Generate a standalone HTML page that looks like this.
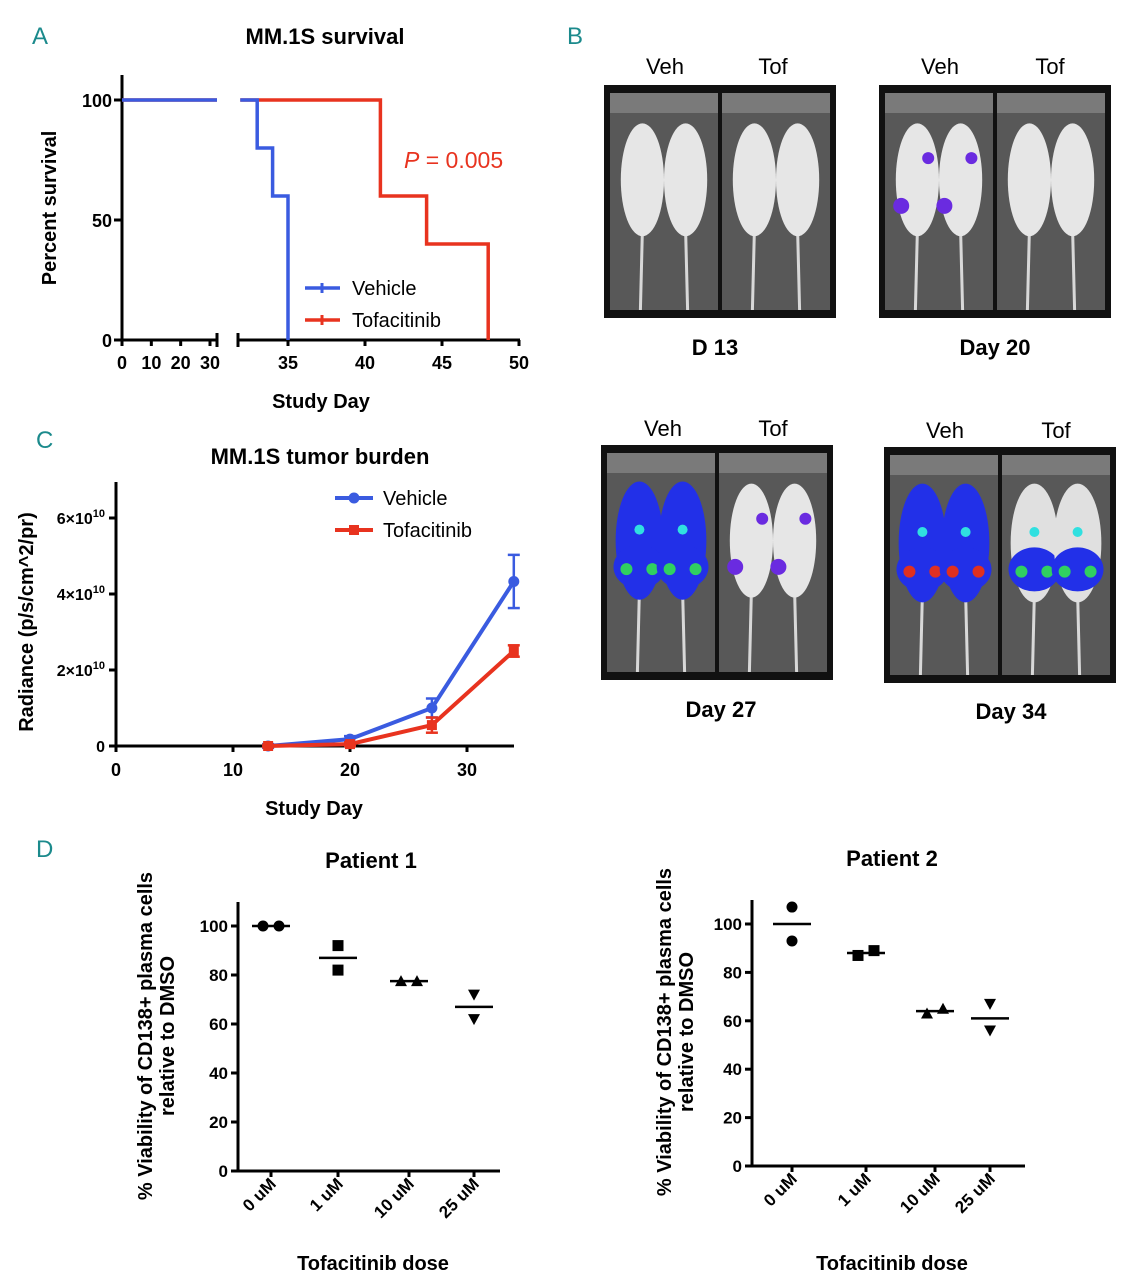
<!DOCTYPE html>
<html><head><meta charset="utf-8"><style>
html,body{margin:0;padding:0;background:#fff;}
svg{display:block;font-family:"Liberation Sans",sans-serif;}
</style></head><body>
<svg id="fig" width="1127" height="1280" viewBox="0 0 1127 1280" xmlns="http://www.w3.org/2000/svg">
<g font-size="24" fill="#1b8a8c" font-family="Liberation Sans Narrow, Liberation Sans, sans-serif">
<text x="32" y="44">A</text>
<text x="567" y="44">B</text>
<text x="36" y="448">C</text>
<text x="36" y="857">D</text>
</g>
<g id="panelA"></g>
<g id="panelB"></g>
<g id="panelC"></g>
<g id="panelD1"></g>
<g id="panelD2"></g>
</svg>
<script>
// ---- Panel A data ----
const vehDays=[0,33,34,35];
const vehSurv=[100,80,60,0];
const tofDays=[0,41,44,48];
const tofSurv=[100,60,40,0];
const aLeftTicks=[0,10,20,30];
const aRightTicks=[35,40,45,50];
const aYTicks=[0,50,100];
// ---- Panel C data ----
const cDays=[13,20,27,34];
const cVeh=[0.0,0.18,1.0,4.33];
const cVehErr=[0.05,0.08,0.25,0.7];
const cTof=[0.0,0.05,0.55,2.5];
const cTofErr=[0.03,0.05,0.2,0.15];
const cXTicks=[0,10,20,30];
const cYTicks=[0,2,4,6];
// ---- Panel D data ----
const doses=["0 uM","1 uM","10 uM","25 uM"];
const p1a=[100,92,77.5,72];
const p1b=[100,82,77.5,62];
const p1mean=[100,87,77.5,67];
const p2a=[107,87,63,67];
const p2b=[93,89,65,56];
const p2mean=[100,88,64,61];
const dYTicks=[0,20,40,60,80,100];

const NS="http://www.w3.org/2000/svg";
function mk(parent,tag,attrs,text){const e=document.createElementNS(NS,tag);for(const k in attrs)e.setAttribute(k,attrs[k]);if(text!==undefined)e.textContent=text;parent.appendChild(e);return e;}
const BLUE="#3a5be0",RED="#e8331f";

// ===== Panel A =====
(function(){
const g=document.getElementById('panelA');
const y=v=>340-v*2.4;
const xl=d=>122+d*(88/30);
const xr=d=>288+(d-35)*15.4;
const xa=d=>d<=30?xl(d):xr(d);
let t=mk(g,'text',{x:325,y:44,'text-anchor':'middle','font-size':22,'font-weight':'bold'},'MM.1S survival');

mk(g,'line',{x1:122,y1:75,x2:122,y2:340,stroke:'#000','stroke-width':3});
mk(g,'line',{x1:122,y1:340,x2:217,y2:340,stroke:'#000','stroke-width':3});
mk(g,'line',{x1:238,y1:340,x2:520,y2:340,stroke:'#000','stroke-width':3});
mk(g,'line',{x1:217,y1:333,x2:217,y2:347,stroke:'#000','stroke-width':3});
mk(g,'line',{x1:238,y1:333,x2:238,y2:347,stroke:'#000','stroke-width':3});
aYTicks.forEach(v=>{mk(g,'line',{x1:114,y1:y(v),x2:122,y2:y(v),stroke:'#000','stroke-width':3});
 const e=mk(g,'text',{x:112,y:y(v)+7,'text-anchor':'end','font-size':18,'font-weight':'bold'},v);
 });
aLeftTicks.forEach(d=>{mk(g,'line',{x1:xl(d),y1:340,x2:xl(d),y2:346,stroke:'#000','stroke-width':3});
 const e=mk(g,'text',{x:xl(d),y:369,'text-anchor':'middle','font-size':18,'font-weight':'bold'},d);
 });
aRightTicks.forEach(d=>{mk(g,'line',{x1:xr(d),y1:340,x2:xr(d),y2:346,stroke:'#000','stroke-width':3});
 const e=mk(g,'text',{x:xr(d),y:369,'text-anchor':'middle','font-size':18,'font-weight':'bold'},d);
 });
let e=mk(g,'text',{x:321,y:408,'text-anchor':'middle','font-size':20,'font-weight':'bold'},'Study Day');

e=mk(g,'text',{x:0,y:0,'text-anchor':'middle','font-size':20,'font-weight':'bold',transform:'translate(56,208) rotate(-90)'},'Percent survival');

function steps(days,surv,color,name){
 let segs=[];let pts=[];
 for(let i=0;i<days.length;i++){
  const d0=days[i],v=surv[i],d1=i+1<days.length?days[i+1]:days[i];
  pts.push([xa(d0),y(v)]);
  if(i+1<days.length){
   if(d0<=30&&d1>30){pts.push([xl(30)+7,y(v)]);segs.push(pts);pts=[[xr(31.9),y(v)]];}
   pts.push([xa(d1),y(v)]);
  }
 }
 segs.push(pts);
 segs.forEach(s=>{const p=mk(g,'polyline',{points:s.map(q=>q.join(',')).join(' '),fill:'none',stroke:color,'stroke-width':3.5});
  });
}
steps(tofDays,tofSurv,RED,'tofacitinib-survival-line');
steps(vehDays,vehSurv,BLUE,'vehicle-survival-line');
e=mk(g,'text',{x:404,y:168,'font-size':23,fill:RED});e.innerHTML='<tspan font-style="italic">P</tspan> = 0.005';

mk(g,'line',{x1:305,y1:288,x2:340,y2:288,stroke:BLUE,'stroke-width':3.5});
mk(g,'line',{x1:322,y1:283,x2:322,y2:293,stroke:BLUE,'stroke-width':3});
e=mk(g,'text',{x:352,y:295,'font-size':20},'Vehicle');
mk(g,'line',{x1:305,y1:320,x2:340,y2:320,stroke:RED,'stroke-width':3.5});
mk(g,'line',{x1:322,y1:315,x2:322,y2:325,stroke:RED,'stroke-width':3});
e=mk(g,'text',{x:352,y:327,'font-size':20},'Tofacitinib');
})();

// ===== Panel B =====
(function(){
const g=document.getElementById('panelB');
const frames=[
 {x:604,y:85,w:232,h:233,lab:'D    13',lx:715,ly:355,hx:[665,773],hy:74,blobs:[]},
 {x:879,y:85,w:232,h:233,lab:'Day 20',lx:995,ly:355,hx:[940,1050],hy:74,blobs:[[0,1,'p']]},
 {x:601,y:445,w:232,h:235,lab:'Day 27',lx:721,ly:717,hx:[663,773],hy:436,blobs:[[0,2,'b'],[1,1,'p']]},
 {x:884,y:447,w:232,h:236,lab:'Day 34',lx:1011,ly:719,hx:[945,1056],hy:438,blobs:[[0,3,'h'],[1,2,'b']]}
];
frames.forEach((f,fi)=>{
 const fg=mk(g,'g',{});
 mk(fg,'rect',{x:f.x,y:f.y,width:f.w,height:f.h,fill:'#111'});
 const pw=(f.w-16)/2;
 for(let p=0;p<2;p++){
  const px=f.x+6+p*(pw+4),py=f.y+8,ph=f.h-16;
  mk(fg,'rect',{x:px,y:py,width:pw,height:ph,fill:'#585858'});
  mk(fg,'rect',{x:px,y:py,width:pw,height:20,fill:'#7a7a7a'});
  for(let m=0;m<2;m++){
   const cx=px+pw*(m?0.7:0.3),cy=py+ph*0.4;
   mk(fg,'line',{x1:cx,y1:cy+50,x2:cx+(m?2:-2),y2:py+ph,stroke:'#d8d8d8','stroke-width':3});
   const lvl=(f.blobs.find(b=>b[0]===p)||[0,0])[1];
   if(lvl>=2){
    mk(fg,'ellipse',{cx:cx,cy:cy,rx:pw*0.22,ry:ph*0.27,fill:lvl>=3||p===0?'#2230e8':'#e0e0e0'});
    mk(fg,'ellipse',{cx:cx,cy:cy+ph*0.12,rx:pw*0.24,ry:ph*0.1,fill:'#2230e8'});
    mk(fg,'circle',{cx:cx-pw*0.12,cy:cy+ph*0.13,r:6,fill:lvl>=3?'#e03020':'#30d060'});
    mk(fg,'circle',{cx:cx+pw*0.12,cy:cy+ph*0.13,r:6,fill:lvl>=3?'#e03020':'#30d060'});
    mk(fg,'circle',{cx:cx,cy:cy-ph*0.05,r:5,fill:'#30e0e0'});
   } else {
    mk(fg,'ellipse',{cx:cx,cy:cy,rx:pw*0.2,ry:ph*0.26,fill:'#e6e6e6'});
    if(lvl===1){mk(fg,'circle',{cx:cx-pw*0.15,cy:cy+ph*0.12,r:8,fill:'#6a2be0'});mk(fg,'circle',{cx:cx+pw*0.1,cy:cy-ph*0.1,r:6,fill:'#6a2be0'});}
   }
  }
 }
 let e=mk(g,'text',{x:f.hx[0],y:f.hy,'text-anchor':'middle','font-size':22},'Veh');
 e=mk(g,'text',{x:f.hx[1],y:f.hy,'text-anchor':'middle','font-size':22},'Tof');
 e=mk(g,'text',{x:f.lx,y:f.ly,'text-anchor':'middle','font-size':22,'font-weight':'bold','xml:space':'preserve'},f.lab);
});
})();

// ===== Panel C =====
(function(){
const g=document.getElementById('panelC');
const x=d=>116+d*11.7;
const y=v=>746-v*38;
let e=mk(g,'text',{x:320,y:464,'text-anchor':'middle','font-size':22,'font-weight':'bold'},'MM.1S tumor burden');

mk(g,'line',{x1:116,y1:482,x2:116,y2:746,stroke:'#000','stroke-width':3});
mk(g,'line',{x1:116,y1:746,x2:514,y2:746,stroke:'#000','stroke-width':3});
cXTicks.forEach(d=>{mk(g,'line',{x1:x(d),y1:746,x2:x(d),y2:752,stroke:'#000','stroke-width':3});
 const t=mk(g,'text',{x:x(d),y:776,'text-anchor':'middle','font-size':18,'font-weight':'bold'},d);});
cYTicks.forEach(v=>{mk(g,'line',{x1:109,y1:y(v),x2:116,y2:y(v),stroke:'#000','stroke-width':3});
 const t=mk(g,'text',{x:105,y:y(v)+6,'text-anchor':'end','font-size':16,'font-weight':'bold'});
 t.innerHTML=v===0?'0':v+'×10<tspan dy="-7" font-size="11">10</tspan>';
 });
e=mk(g,'text',{x:314,y:815,'text-anchor':'middle','font-size':20,'font-weight':'bold'},'Study Day');
e=mk(g,'text',{x:0,y:0,'text-anchor':'middle','font-size':20,'font-weight':'bold',transform:'translate(33,622) rotate(-90)'},'Radiance (p/s/cm^2/pr)');
function series(vals,errs,color,name,sq){
 const p=mk(g,'polyline',{points:cDays.map((d,i)=>x(d)+','+y(vals[i])).join(' '),fill:'none',stroke:color,'stroke-width':4});
 
 cDays.forEach((d,i)=>{
  mk(g,'line',{x1:x(d),y1:y(vals[i]+errs[i]),x2:x(d),y2:y(vals[i]-errs[i]),stroke:color,'stroke-width':2.5});
  mk(g,'line',{x1:x(d)-6,y1:y(vals[i]+errs[i]),x2:x(d)+6,y2:y(vals[i]+errs[i]),stroke:color,'stroke-width':2.5});
  mk(g,'line',{x1:x(d)-6,y1:y(vals[i]-errs[i]),x2:x(d)+6,y2:y(vals[i]-errs[i]),stroke:color,'stroke-width':2.5});
  const m=sq?mk(g,'rect',{x:x(d)-5,y:y(vals[i])-5,width:10,height:10,fill:color}):mk(g,'circle',{cx:x(d),cy:y(vals[i]),r:5.5,fill:color});
  
 });
}
series(cVeh,cVehErr,BLUE,'vehicle',false);
series(cTof,cTofErr,RED,'tofacitinib',true);
mk(g,'line',{x1:335,y1:498,x2:373,y2:498,stroke:BLUE,'stroke-width':4});mk(g,'circle',{cx:354,cy:498,r:5.5,fill:BLUE});
e=mk(g,'text',{x:383,y:505,'font-size':20},'Vehicle');
mk(g,'line',{x1:335,y1:530,x2:373,y2:530,stroke:RED,'stroke-width':4});mk(g,'rect',{x:349,y:525,width:10,height:10,fill:RED});
e=mk(g,'text',{x:383,y:537,'font-size':20},'Tofacitinib');
})();

// ===== Panel D =====
function dotPlot(id,cfg,a,b,mean,title){
 const g=document.getElementById(id);
 const y=v=>cfg.y0-v*cfg.s;
 let e=mk(g,'text',{x:cfg.tx,y:cfg.ty,'text-anchor':'middle','font-size':22,'font-weight':'bold'},title);
 mk(g,'line',{x1:cfg.ax,y1:cfg.top,x2:cfg.ax,y2:cfg.y0,stroke:'#000','stroke-width':3});
 mk(g,'line',{x1:cfg.ax,y1:cfg.y0,x2:cfg.right,y2:cfg.y0,stroke:'#000','stroke-width':3});
 dYTicks.forEach(v=>{mk(g,'line',{x1:cfg.ax-7,y1:y(v),x2:cfg.ax,y2:y(v),stroke:'#000','stroke-width':3});
  const t=mk(g,'text',{x:cfg.ax-10,y:y(v)+6,'text-anchor':'end','font-size':17,'font-weight':'bold'},v);});
 const shapes=['circle','square','tri','itri'];
 doses.forEach((d,i)=>{
  const cx=cfg.xs[i];
  mk(g,'line',{x1:cx,y1:cfg.y0,x2:cx,y2:cfg.y0+6,stroke:'#000','stroke-width':3});
  const t=mk(g,'text',{x:0,y:0,'text-anchor':'end','font-size':17,'font-weight':'bold',transform:`translate(${cx+6},${cfg.y0+14}) rotate(-45)`},d);
  
  const ml=mk(g,'line',{x1:cx-19,y1:y(mean[i]),x2:cx+19,y2:y(mean[i]),stroke:'#000','stroke-width':2.5});
  
  [a[i],b[i]].forEach((v,k)=>{
   const off=Math.abs(a[i]-b[i])<4?(k?8:-8):0;const px=cx+off,py=y(v);let m;
   if(shapes[i]==='circle')m=mk(g,'circle',{cx:px,cy:py,r:5.5});
   else if(shapes[i]==='square')m=mk(g,'rect',{x:px-5.5,y:py-5.5,width:11,height:11});
   else if(shapes[i]==='tri')m=mk(g,'polygon',{points:`${px-6},${py+5} ${px+6},${py+5} ${px},${py-6}`});
   else m=mk(g,'polygon',{points:`${px-6},${py-5} ${px+6},${py-5} ${px},${py+6}`});
   
  });
 });
 e=mk(g,'text',{x:cfg.xt,y:1270,'text-anchor':'middle','font-size':20,'font-weight':'bold'},'Tofacitinib dose');
 e=mk(g,'text',{x:0,y:0,'text-anchor':'middle','font-size':20,'font-weight':'bold',transform:`translate(${cfg.yt},${cfg.ym}) rotate(-90)`});
 e.innerHTML=`<tspan x="0" dy="0">% Viability of CD138+ plasma cells</tspan><tspan x="0" dy="22">relative to DMSO</tspan>`;
 
}
dotPlot('panelD1',{y0:1171,s:2.45,ax:238,top:902,right:500,xs:[271,338,409,474],tx:371,ty:868,xt:373,yt:152,ym:1036},p1a,p1b,p1mean,'Patient 1');
dotPlot('panelD2',{y0:1166,s:2.42,ax:752,top:900,right:1025,xs:[792,866,935,990],tx:892,ty:866,xt:892,yt:671,ym:1032},p2a,p2b,p2mean,'Patient 2');
</script>
</body></html>
